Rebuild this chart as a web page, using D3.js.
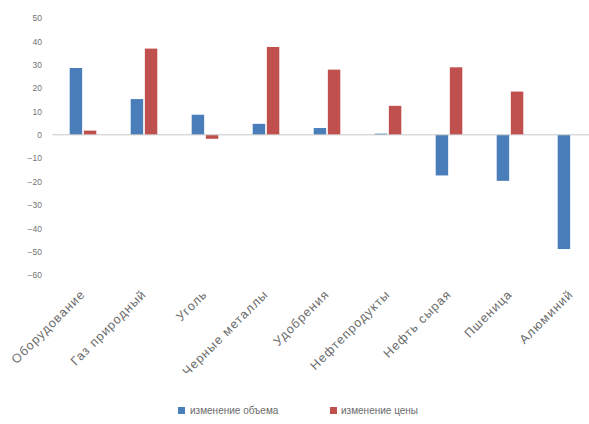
<!DOCTYPE html>
<html><head><meta charset="utf-8">
<script src="https://cdn.jsdelivr.net/npm/d3@7"></script>
<style>body{margin:0;background:#fff}svg{display:block}text{font-family:"Liberation Sans",Arial,sans-serif}</style>
</head><body>
<svg id="c" width="589" height="424"></svg>
<script>
const categories = ["Оборудование","Газ природный","Уголь","Черные металлы","Удобрения","Нефтепродукты","Нефть сырая","Пшеница","Алюминий"];
const volumeChange = [28.6, 15.3, 8.6, 4.7, 2.9, 0.5, -17.4, -19.7, -48.9];
const priceChange = [1.8, 36.9, -1.7, 37.6, 27.9, 12.4, 28.9, 18.5, 0];
const seriesNames = ["изменение объема","изменение цены"];
const yTicks = [50,40,30,20,10,0,-10,-20,-30,-40,-50,-60];
const colors = ["#4a7ebb","#c0504d"];

const svg = d3.select("#c");
const y = d3.scaleLinear().domain([-60,50]).range([275,18]);
const x = d3.scaleBand().domain(categories).range([52.5,601.5]).paddingInner(0).paddingOuter(0);
const x1 = d3.scaleBand().domain([0,1]).range([15.5,45.5]).padding(0.12);

// y axis labels
const yAxis = d3.axisLeft(y).tickValues(yTicks).tickSize(0).tickPadding(0);
const ga = svg.append("g").attr("transform","translate(42,0)").call(yAxis);
ga.select(".domain").remove();
ga.selectAll("text").attr("font-size",8.5).attr("fill","#737373").style("font-family","Liberation Sans, Arial, sans-serif");

// bars
const g = svg.append("g");
categories.forEach((c,i)=>{
  [volumeChange[i], priceChange[i]].forEach((v,s)=>{
    if (v===0) return;
    g.append("rect")
      .attr("x", x(c)+x1(s))
      .attr("width", x1.bandwidth())
      .attr("y", y(Math.max(0,v)))
      .attr("height", Math.abs(y(v)-y(0)))
      .attr("fill", colors[s]);
  });
});

// zero line
svg.append("line").attr("x1",52.5).attr("x2",601.5).attr("y1",y(0)).attr("y2",y(0))
  .attr("stroke","#c8c8c8").attr("stroke-width",1);

// x labels
categories.forEach(c=>{
  const cx = x(c)+x.bandwidth()/2+3;
  svg.append("text").attr("transform",`translate(${cx},295) rotate(-45)`)
    .attr("text-anchor","end").attr("font-size",12.5).attr("letter-spacing",1.1)
    .attr("fill","#6b6b6b").text(c);
});

// legend
const leg = [[178,190],[330,341]];
seriesNames.forEach((n,i)=>{
  svg.append("rect").attr("x",leg[i][0]).attr("y",407).attr("width",7).attr("height",7).attr("fill",colors[i]);
  svg.append("text").attr("x",leg[i][1]).attr("y",414).attr("font-size",10).attr("fill","#6b6b6b").text(n);
});
</script>
</body></html>
